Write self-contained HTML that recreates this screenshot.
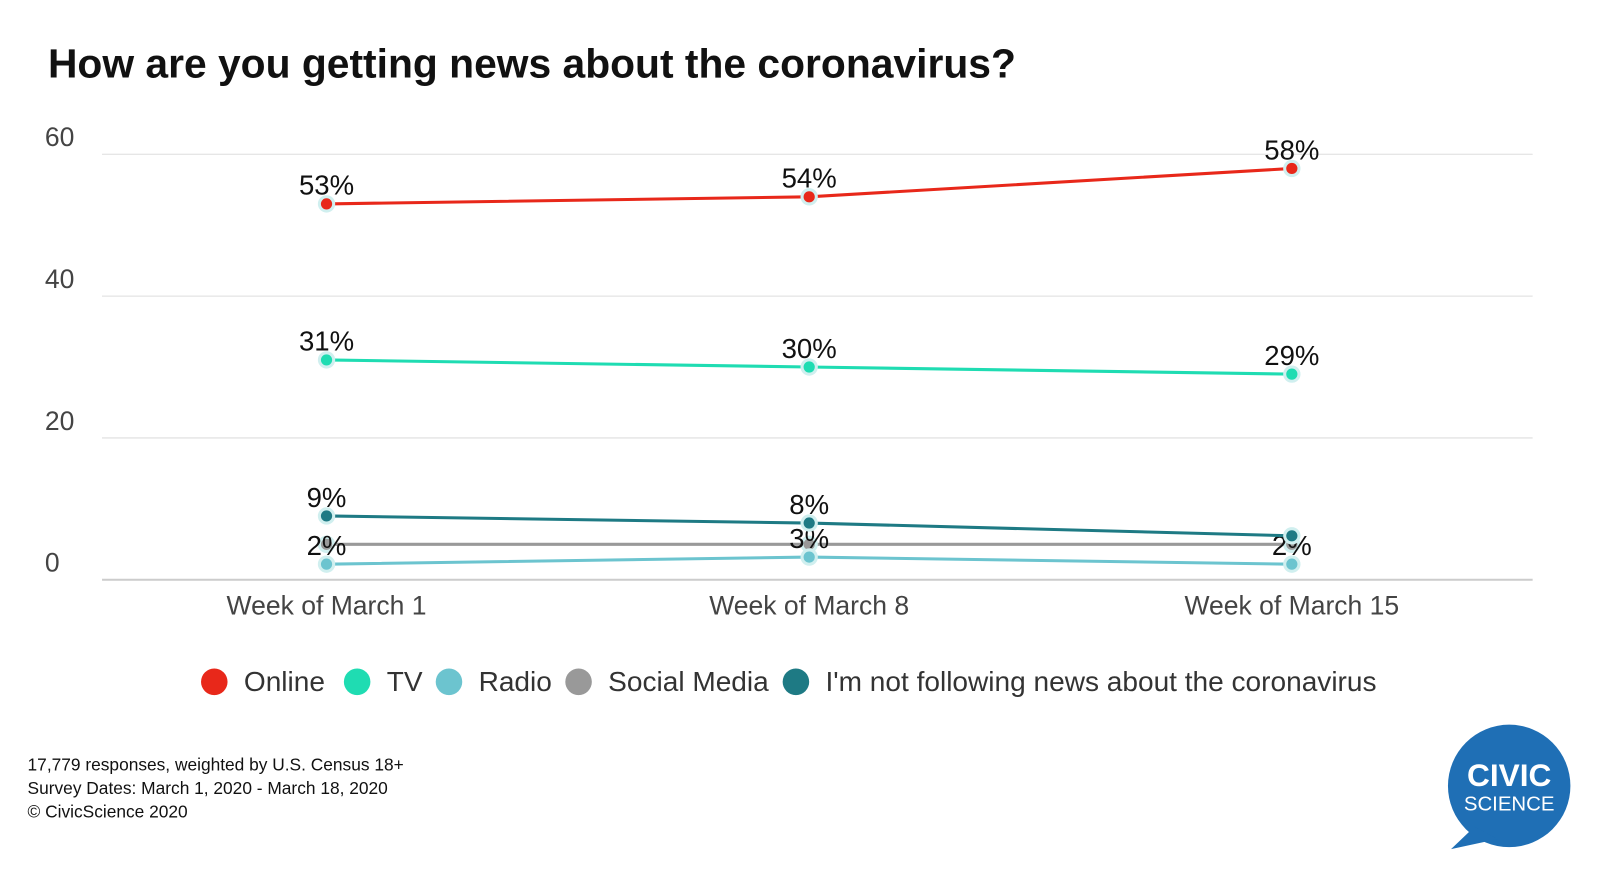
<!DOCTYPE html>
<html><head><meta charset="utf-8"><style>
body{margin:0;background:#fff;font-family:"Liberation Sans",sans-serif}
</style></head><body>
<svg width="1600" height="882" viewBox="0 0 1568 864" xmlns="http://www.w3.org/2000/svg" style="display:block">
<text x="47" y="76" font-size="40" font-weight="bold" fill="#111">How are you getting news about the coronavirus?</text>
<g id="grid"></g><g id="series"></g>
<g id="legend" font-size="27.5" fill="#333"></g>
<text font-size="17" fill="#111"><tspan x="27" y="755">17,779 responses, weighted by U.S. Census 18+</tspan><tspan x="27" y="778">Survey Dates: March 1, 2020 - March 18, 2020</tspan><tspan x="27" y="801">© CivicScience 2020</tspan></text>
<g>
<circle cx="1479" cy="770" r="60" fill="#1f6fb5"/>
<path d="M1445 810 L1422 832 L1468 822 Z" fill="#1f6fb5"/>
<text x="1479" y="770" font-size="31" font-weight="bold" fill="#fff" text-anchor="middle">CIVIC</text>
<text x="1479" y="794" font-size="20" fill="#fff" text-anchor="middle">SCIENCE</text>
</g>
</svg>
<script>
const categories=["Week of March 1","Week of March 8","Week of March 15"];
const online=[53,54,58];
const tv=[31,30,29];
const radio=[2.2,3.2,2.2];
const social=[5,5,5];
const notFollowing=[9,8,6.2];
const onlineLabels=["53%","54%","58%"];
const tvLabels=["31%","30%","29%"];
const radioLabels=["2%","3%","2%"];
const notFollowingLabels=["9%","8%",""];
const yTicks=[0,20,40,60];
const NS="http://www.w3.org/2000/svg";
const y=v=>568-v*6.95;
const x=i=>320+i*473;
function mk(t,a,p){const e=document.createElementNS(NS,t);for(const k in a)e.setAttribute(k,a[k]);p.appendChild(e);return e;}
const grid=document.getElementById('grid');
yTicks.forEach(t=>{
 const l=mk('line',{x1:100,x2:1502,y1:y(t),y2:y(t),stroke:t===0?'#ccc':'#ddd','stroke-width':t===0?2:1},grid);
 
 
 const tx=mk('text',{x:44,y:y(t)-8,'font-size':26,fill:'#444'},grid);tx.textContent=t;
 
 
});
categories.forEach((c,i)=>{
 const tx=mk('text',{x:x(i),y:602,'font-size':26,fill:'#444','text-anchor':'middle'},grid);tx.textContent=c;
 
 
});
const S=document.getElementById('series');
const series=[
 {n:'social-media',d:social,c:'#999',lab:null},
 {n:'radio',d:radio,c:'#6cc4cf',lab:radioLabels},
 {n:'not-following',d:notFollowing,c:'#1e7a84',lab:notFollowingLabels},
 {n:'tv',d:tv,c:'#1fdcb2',lab:tvLabels},
 {n:'online',d:online,c:'#e8281a',lab:onlineLabels}];
series.forEach(s=>{
 const g=mk('g',{},S);
 
 
 const p=mk('polyline',{points:s.d.map((v,i)=>x(i)+','+y(v)).join(' '),fill:'none',stroke:s.c,'stroke-width':3},g);
 
 
 s.d.forEach((v,i)=>{
  const c=mk('circle',{cx:x(i),cy:y(v),r:7,fill:s.c,stroke:'#d0efef','stroke-width':3},g);
  
  
  if(s.lab&&s.lab[i]){const t=mk('text',{x:x(i),y:y(v)-9,'font-size':27,fill:'#111','text-anchor':'middle'},g);t.textContent=s.lab[i];
  
  }
 });
});
const L=document.getElementById('legend');
const leg=[['Online','#e8281a',210],['TV','#1fdcb2',350],['Radio','#6cc4cf',440],['Social Media','#999',567],["I'm not following news about the coronavirus",'#1e7a84',780]];
leg.forEach(l=>{
 const g=mk('g',{},L);
 
 
 mk('circle',{cx:l[2],cy:668,r:13,fill:l[1]},g);
 const t=mk('text',{x:l[2]+29,y:677},g);t.textContent=l[0];
});
</script>
</body></html>
